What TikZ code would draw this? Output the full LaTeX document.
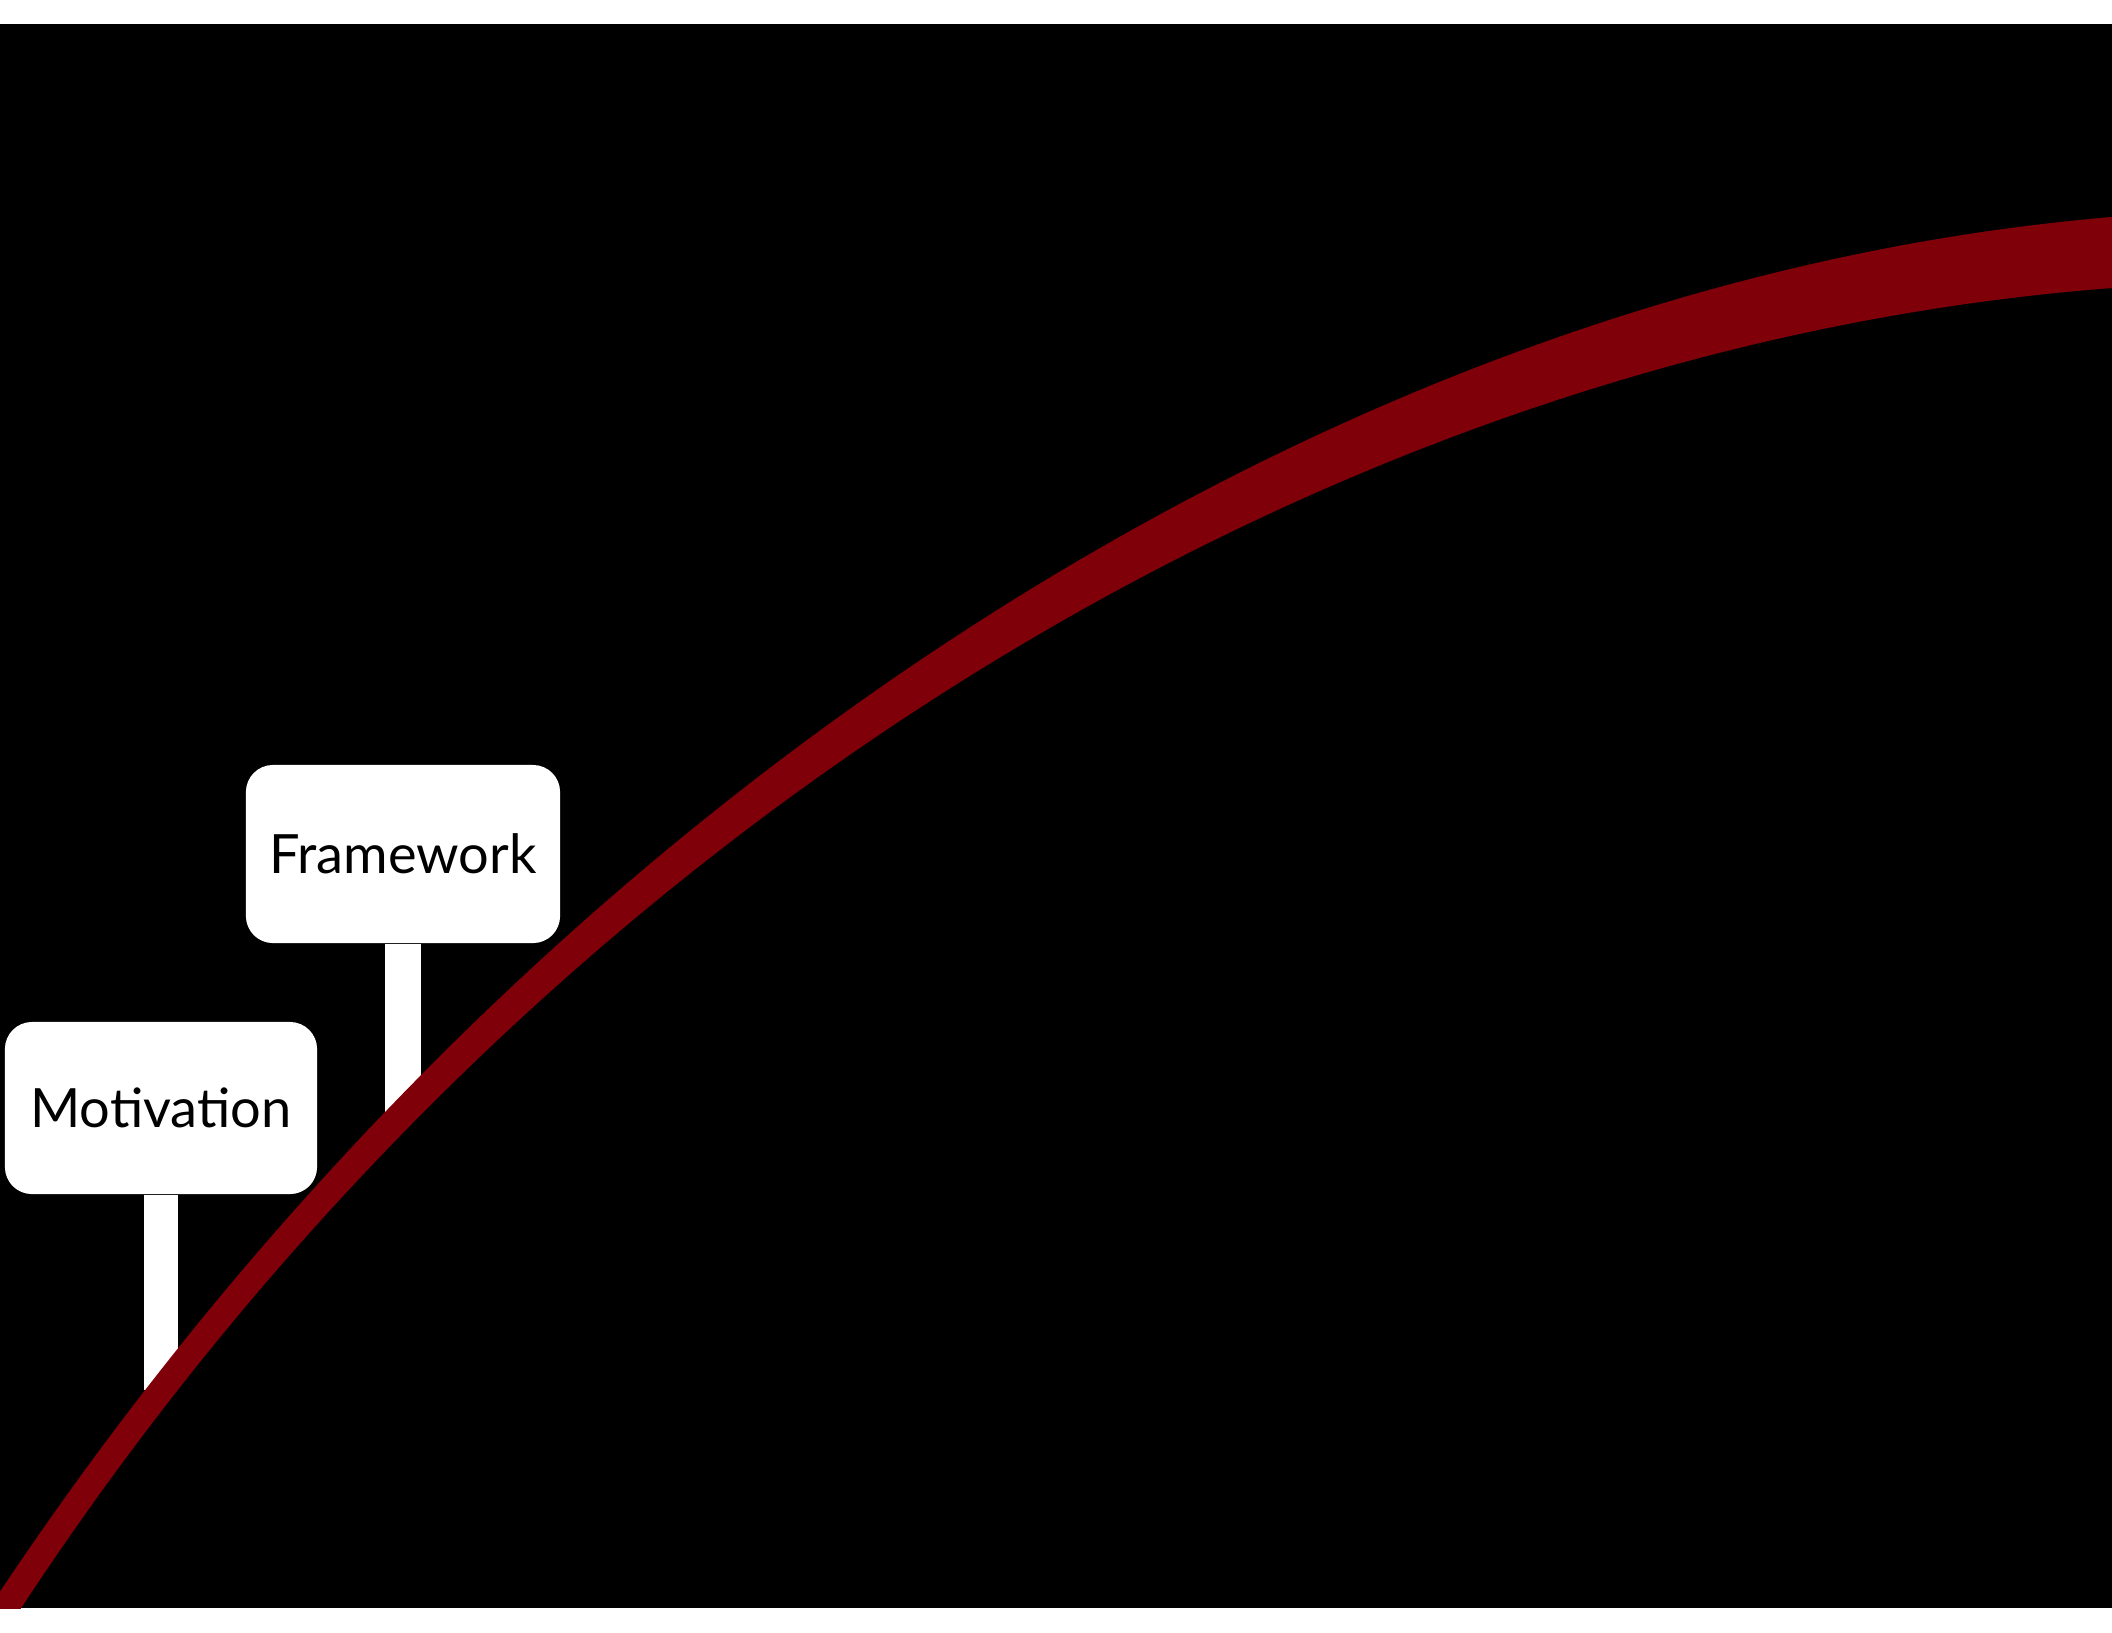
\documentclass[tikz,border=0pt]{standalone}
\usepackage{fontspec}
\setmainfont{Lato}
\definecolor{bandred}{RGB}{128,0,10}
\tikzset{
  sign/.style={fill=white, rounded corners=0.27cm, inner sep=0pt},
  lbl/.style={text=black, font=\fontsize{15.4}{18}\selectfont, inner sep=0pt},
}
\begin{document}
\begin{tikzpicture}[x=0.01cm,y=-0.01cm]
\useasboundingbox (0,0) rectangle (2112,1632);
\fill[white] (0,0) rectangle (2112,1632);
\fill[black] (0,24) rectangle (2112,1608);
% signs
\node[sign, minimum width=3.12cm, minimum height=1.72cm] (mot) at (161,1108) {};
\node[sign, minimum width=3.14cm, minimum height=1.78cm] (fra) at (403,854) {};
\fill[white] ([xshift=-0.17cm]mot.south) rectangle ([xshift=0.17cm,yshift=-1.95cm]mot.south);
\fill[white] ([xshift=-0.18cm]fra.south) rectangle ([xshift=0.18cm,yshift=-1.68cm]fra.south);
\node[lbl] (motl) at (mot.center) {Motivation};
\node[lbl] (fral) at (fra.center) {Framework};
% red band
\begin{scope}
\clip (0,24) rectangle (2112,1608);
\fill[bandred] (-20,1622) .. controls (490,840) and (1300,285) .. (2112,217)
  -- (2112,288) .. controls (1300,350) and (505,862) .. (12,1622) -- cycle;
\end{scope}
\end{tikzpicture}
\end{document}
